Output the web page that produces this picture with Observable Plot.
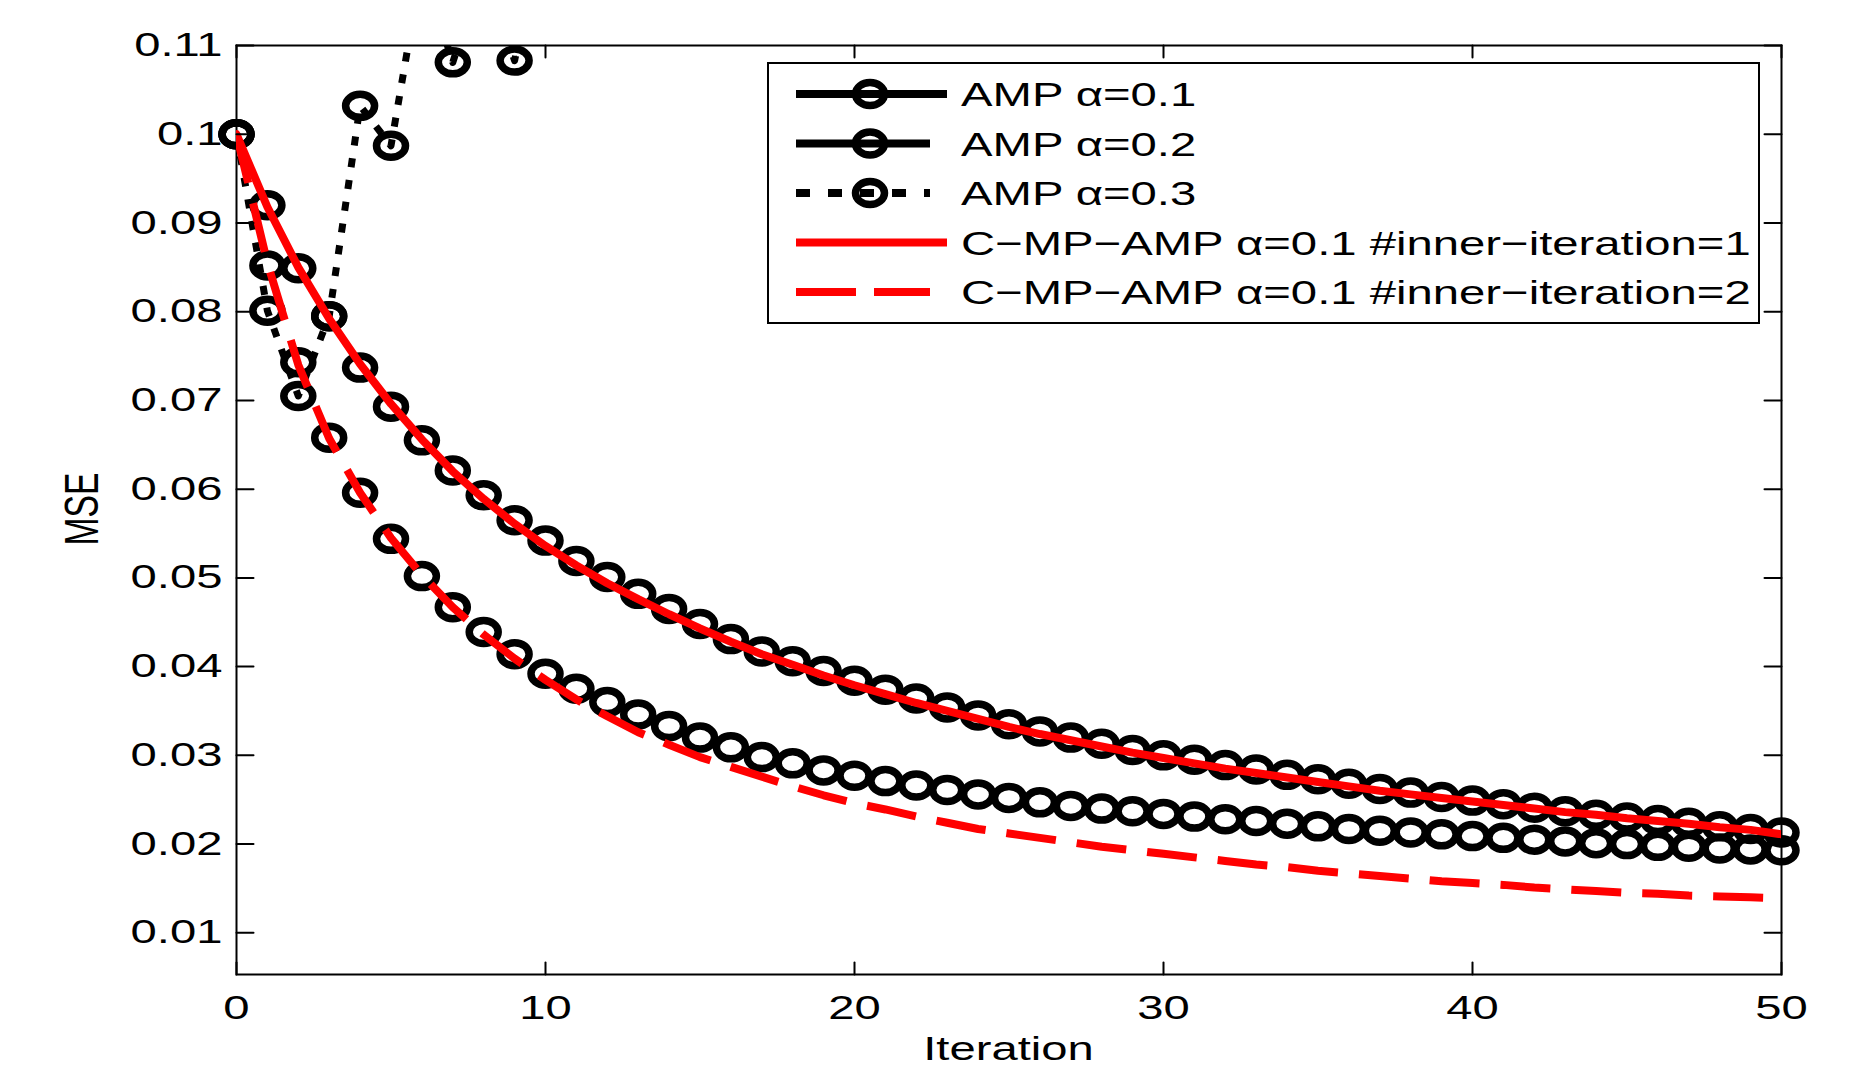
<!DOCTYPE html>
<html><head><meta charset="utf-8">
<script src="https://cdn.jsdelivr.net/npm/d3@7"></script>
<script src="https://cdn.jsdelivr.net/npm/@observablehq/plot@0.6"></script>
<style>
html,body{margin:0;padding:0;background:#fff;}
#chart{width:1860px;height:1067px;overflow:hidden;}
</style>
</head><body><div id="chart"></div>
<script>
// ---------- data ----------
const iteration = [0,1,2,3,4,5,6,7,8,9,10,11,12,13,14,15,16,17,18,19,20,21,22,23,24,25,26,27,28,29,30,31,32,33,34,35,36,37,38,39,40,41,42,43,44,45,46,47,48,49,50];
const xTicks = [0,10,20,30,40,50];
const xTickLabels = ["0","10","20","30","40","50"];
const yTicks = [0.01,0.02,0.03,0.04,0.05,0.06,0.07,0.08,0.09,0.10,0.11];
const yTickLabels = ["0.01","0.02","0.03","0.04","0.05","0.06","0.07","0.08","0.09","0.1","0.11"];
const seriesNames = ["AMP \u03b1=0.1","AMP \u03b1=0.2","AMP \u03b1=0.3","C\u2212MP\u2212AMP \u03b1=0.1 #inner\u2212iteration=1","C\u2212MP\u2212AMP \u03b1=0.1 #inner\u2212iteration=2"];
const xLabel = "Iteration";
const yLabel = "MSE";

const ampAlpha01 = [0.1000,0.0920,0.0849,0.0795,0.0737,0.0693,0.0655,0.0621,0.0593,0.0565,0.0542,0.0519,0.0501,0.0482,0.0465,0.0448,0.0431,0.0417,0.0406,0.0395,0.0384,0.0374,0.0364,0.0354,0.0345,0.0335,0.0327,0.0320,0.0313,0.0306,0.0300,0.0295,0.0289,0.0284,0.0278,0.0273,0.0268,0.0262,0.0258,0.0253,0.0249,0.0245,0.0241,0.0237,0.0233,0.0230,0.0227,0.0224,0.0220,0.0217,0.0213];
const ampAlpha02 = [0.1000,0.0852,0.0743,0.0658,0.0596,0.0544,0.0502,0.0467,0.0439,0.0414,0.0392,0.0375,0.0360,0.0346,0.0333,0.0320,0.0309,0.0298,0.0291,0.0283,0.0277,0.0271,0.0266,0.0261,0.0256,0.0252,0.0247,0.0243,0.0240,0.0237,0.0234,0.0231,0.0228,0.0226,0.0223,0.0220,0.0217,0.0215,0.0213,0.0211,0.0209,0.0207,0.0205,0.0203,0.0201,0.0200,0.0198,0.0197,0.0195,0.0194,0.0193];
const ampAlpha03Iteration = [0,1,2,3,4,5,6,7,8,9,10];
const ampAlpha03 = [0.1000,0.0801,0.0705,0.0795,0.1032,0.0987,0.1190,0.1081,0.1190,0.1083,0.1250];
const cmpInner1 = [0.1000,0.0918,0.0850,0.0792,0.0741,0.0696,0.0656,0.0620,0.0589,0.0561,0.0536,0.0514,0.0494,0.0476,0.0459,0.0443,0.0428,0.0414,0.0402,0.0390,0.0379,0.0369,0.0359,0.0350,0.0341,0.0332,0.0324,0.0317,0.0310,0.0303,0.0297,0.0291,0.0285,0.0280,0.0275,0.0270,0.0265,0.0260,0.0256,0.0252,0.0248,0.0244,0.0240,0.0236,0.0233,0.0229,0.0226,0.0223,0.0219,0.0216,0.0211];
const cmpInner2 = [0.1000,0.0855,0.0740,0.0657,0.0596,0.0545,0.0503,0.0467,0.0436,0.0409,0.0385,0.0363,0.0344,0.0326,0.0312,0.0298,0.0287,0.0276,0.0265,0.0255,0.0246,0.0239,0.0231,0.0224,0.0217,0.0212,0.0207,0.0202,0.0197,0.0193,0.0189,0.0185,0.0181,0.0177,0.0174,0.0170,0.0167,0.0164,0.0161,0.0158,0.0156,0.0154,0.0151,0.0149,0.0147,0.0145,0.0144,0.0142,0.0141,0.0140,0.0139];

// ---------- build ----------
const W = 1860, H = 1067;
const Y_MIN = 0.0053, Y_MAX = 0.11;
const rows = (xs, ys) => xs.map((x, i) => ({x, y: ys[i]}));
const d01 = rows(iteration, ampAlpha01);
const d02 = rows(iteration, ampAlpha02);
const d03 = rows(ampAlpha03Iteration, ampAlpha03);
const dC1 = rows(iteration, cmpInner1);
const dC2 = rows(iteration, cmpInner2);
const visible = d => d.y <= Y_MAX && d.y >= Y_MIN;

const RX = 14.5, RY = 11.5, MSW = 7.5;
const ellipseSymbol = {draw(ctx) {
  const k = 0.5523;
  ctx.moveTo(RX, 0);
  ctx.bezierCurveTo(RX, k * RY, k * RX, RY, 0, RY);
  ctx.bezierCurveTo(-k * RX, RY, -RX, k * RY, -RX, 0);
  ctx.bezierCurveTo(-RX, -k * RY, -k * RX, -RY, 0, -RY);
  ctx.bezierCurveTo(k * RX, -RY, RX, -k * RY, RX, 0);
  ctx.closePath();
}};
const tickShape = {draw(ctx, l) { ctx.moveTo(0, 0); ctx.lineTo(0, -l); }};
const FONT = "Liberation Sans, Arial, Helvetica, sans-serif";
const STRETCH = 1.43;
const marker = {symbol: ellipseSymbol, r: 13, stroke: "black", strokeWidth: MSW, fill: "none"};

const plot = Plot.plot({
  width: W, height: H,
  marginTop: 45, marginRight: 79, marginBottom: 93, marginLeft: 236,
  style: {fontFamily: FONT, fontSize: "33px", color: "black", background: "white"},
  x: {domain: [0, 50]},
  y: {domain: [Y_MIN, Y_MAX]},
  marks: [
    Plot.frame({stroke: "black", strokeWidth: 2}),
    Plot.axisX({ticks: xTicks, tickSize: 0, tickPadding: 21, label: null,
      tickFormat: d => xTickLabels[xTicks.indexOf(d)]}),
    Plot.axisY({ticks: yTicks, tickSize: 0, tickPadding: 14, label: null,
      tickFormat: d => yTickLabels[yTicks.indexOf(d)]}),
    // AMP alpha=0.1 (markers)
    Plot.dot(d01.filter(visible), {x: "x", y: "y", ...marker}),
    // AMP alpha=0.2 (markers)
    Plot.dot(d02.filter(visible), {x: "x", y: "y", ...marker}),
    // AMP alpha=0.3 (dotted line + markers)
    Plot.line(d03, {x: "x", y: "y", stroke: "black", strokeWidth: 7, strokeDasharray: "9,13", strokeLinecap: "butt", clip: true}),
    Plot.dot(d03.filter(visible), {x: "x", y: "y", ...marker}),
    // C-MP-AMP
    Plot.line(dC1, {x: "x", y: "y", stroke: "#ff0000", strokeWidth: 8, clip: true}),
    Plot.line(dC2, {x: "x", y: "y", stroke: "#ff0000", strokeWidth: 8, strokeDasharray: "50,21", strokeLinecap: "butt", clip: true}),
    // inward ticks on all four sides
    Plot.vector(yTicks, {y: d => d, frameAnchor: "left", rotate: 90, length: 17, anchor: "start", shape: tickShape, stroke: "black", strokeWidth: 2}),
    Plot.vector(yTicks, {y: d => d, frameAnchor: "right", rotate: -90, length: 17, anchor: "start", shape: tickShape, stroke: "black", strokeWidth: 2}),
    Plot.vector(xTicks, {x: d => d, frameAnchor: "bottom", rotate: 0, length: 12, anchor: "start", shape: tickShape, stroke: "black", strokeWidth: 2}),
    Plot.vector(xTicks, {x: d => d, frameAnchor: "top", rotate: 180, length: 12, anchor: "start", shape: tickShape, stroke: "black", strokeWidth: 2})
  ]
});
document.getElementById("chart").appendChild(plot);

function stretch(el, factor) {
  const w = el.getComputedTextLength();
  if (w > 0) {
    el.setAttribute("textLength", (w * factor).toFixed(1));
    el.setAttribute("lengthAdjust", "spacingAndGlyphs");
  }
}
plot.querySelectorAll('g[aria-label$="tick label"] text').forEach(t => stretch(t, STRETCH));

const svg = d3.select(plot);
// axis titles
const xl = svg.append("text").attr("x", 1008.5).attr("y", 1060).attr("text-anchor", "middle")
  .attr("font-family", FONT).attr("font-size", 33).attr("fill", "black").text(xLabel);
stretch(xl.node(), STRETCH);
const yl = svg.append("text").attr("transform", "translate(98,509) rotate(-90)").attr("text-anchor", "middle")
  .attr("font-family", FONT).attr("font-size", 49).attr("fill", "black").text(yLabel);
yl.attr("textLength", 73).attr("lengthAdjust", "spacingAndGlyphs");

// legend
const lg = svg.append("g").attr("aria-label", "legend").attr("text-anchor", "start");
lg.append("rect").attr("x", 768).attr("y", 63).attr("width", 991).attr("height", 260)
  .attr("fill", "white").attr("stroke", "black").attr("stroke-width", 2);
const legendStyles = [
  {stroke: "black", x2: 947, dash: null, marker: true},
  {stroke: "black", x2: 930, dash: null, marker: true},
  {stroke: "black", x2: 930, dash: "14,18", marker: true},
  {stroke: "#ff0000", x2: 947, dash: null, marker: false},
  {stroke: "#ff0000", x2: 930, dash: "60,18", marker: false}
];
seriesNames.forEach((name, i) => {
  const cy = 94 + i * 49.5;
  const s = legendStyles[i];
  const ln = lg.append("line").attr("x1", 796).attr("x2", s.x2).attr("y1", cy).attr("y2", cy)
    .attr("stroke", s.stroke).attr("stroke-width", 8);
  if (s.dash) ln.attr("stroke-dasharray", s.dash);
  if (s.marker) lg.append("ellipse").attr("cx", 870).attr("cy", cy).attr("rx", RX).attr("ry", RY)
    .attr("fill", "none").attr("stroke", "black").attr("stroke-width", MSW);
  const t = lg.append("text").attr("x", 961).attr("y", cy + 12.4).attr("text-anchor", "start")
    .attr("font-family", FONT).attr("font-size", 34).attr("fill", "black").text(name);
  stretch(t.node(), 1.39);
});
</script>
</body></html>
